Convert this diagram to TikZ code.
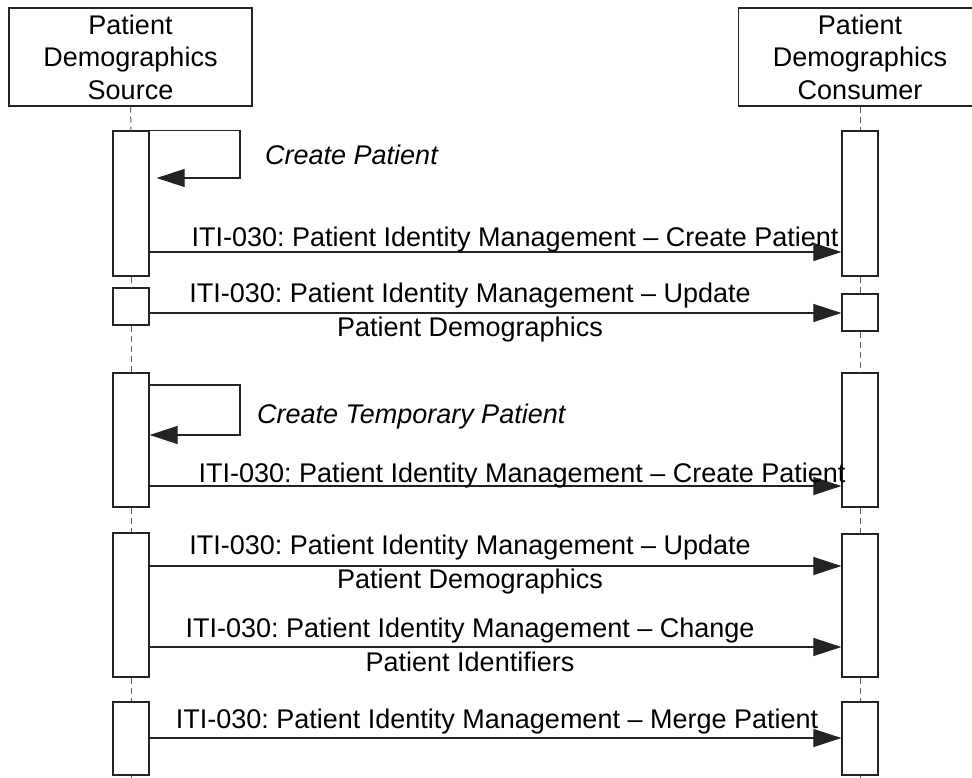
\documentclass[tikz,border=0pt]{standalone}
\usepackage{fontspec}
\setmainfont{Liberation Sans}
\usetikzlibrary{arrows.meta,positioning}
\definecolor{lineblack}{RGB}{35,35,35}
\definecolor{lifegray}{RGB}{95,95,95}
\frenchspacing

\begin{document}
\begin{tikzpicture}[x=1pt,y=-1pt,>=Stealth,
    font=\fontsize{27}{32.5}\selectfont,
    headbox/.style={draw=lineblack,line width=1.2pt,minimum width=243pt,
      minimum height=98pt,align=center,inner sep=0pt},
    actbox/.style={draw=lineblack,fill=white,line width=1.2pt,
      minimum width=36pt,inner sep=0pt},
    lifeline/.style={draw=lifegray,line width=1pt,dash pattern=on 6pt off 4pt},
    msg/.style={draw=lineblack,line width=1.1pt,
      -{Triangle[length=28pt,width=18pt]}},
    msglabel/.style={align=center,inner sep=0pt,anchor=base,
      font=\fontsize{27}{33.5}\selectfont},
    selflabel/.style={anchor=base west,inner sep=0pt,
      font=\fontsize{27}{32.5}\selectfont\itshape}]

  \clip (0,0) rectangle (972,778);

  %-------------------- actors --------------------
  \node[headbox] (srcHead) at (130.5,57) {Patient\\Demographics\\Source};
  \node[headbox] (conHead) at (860,57) {Patient\\Demographics\\Consumer};

  % activation bars
  \foreach \nm/\y/\h in {s1/203.5/145,s2/306.5/37,s3/440/134,s4/605/144,s5/738.5/73}
    \node[actbox,minimum height=\h pt] (\nm) at (131,\y) {};
  \foreach \nm/\y/\h in {c1/203.5/145,c2/312.5/37,c3/440/134,c4/605.5/143,c5/738.5/73}
    \node[actbox,minimum height=\h pt] (\nm) at (860,\y) {};

  % lifelines
  \foreach \a/\b in {srcHead/s1,s1/s2,s2/s3,s3/s4,s4/s5,
                     conHead/c1,c1/c2,c2/c3,c3/c4,c4/c5}
    \draw[lifeline] (\a.south) -- (\b.north);
  \coordinate (srcEnd) at (131,778);
  \coordinate (conEnd) at (860,778);
  \draw[lifeline] (s5.south) -- (srcEnd);
  \draw[lifeline] (c5.south) -- (conEnd);

  %-------------------- self messages --------------------
  \coordinate (selfA) at (240,178);
  \draw[msg] (s1.north east) -| (selfA) -- ([xshift=7pt]s1.east |- selfA);
  \node[selflabel] (lselfA) at (265,165) {Create Patient};

  \coordinate (selfBtop) at (240,385);
  \coordinate (selfBbot) at (240,435);
  \draw[msg] (s3.east |- selfBtop) -- (selfBtop) -- (selfBbot)
    -- (s3.east |- selfBbot);
  \node[selflabel] (lselfB) at (257,423) {Create Temporary Patient};

  %-------------------- messages --------------------
  \foreach \a/\b/\y [count=\i] in {s1/c1/252,s2/c2/313,s3/c3/486,
                                   s4/c4/566,s4/c4/647,s5/c5/738}{
    \coordinate (m\i) at (0,\y);
    \draw[msg] (\a.east |- m\i) -- (\b.west |- m\i);
  }

  % labels (base = last text line)
  \node[msglabel] (l1) at (515,247)
    {ITI-030: Patient Identity Management – Create Patient};
  \node[msglabel] (l2) at (470,336)
    {ITI-030: Patient Identity Management – Update\\Patient Demographics};
  \node[msglabel] (l3) at (522,482)
    {ITI-030: Patient Identity Management – Create Patient};
  \node[msglabel] (l4) at (470,588)
    {ITI-030: Patient Identity Management – Update\\Patient Demographics};
  \node[msglabel] (l5) at (470,671)
    {ITI-030: Patient Identity Management – Change\\Patient Identifiers};
  \node[msglabel] (l6) at (497,728)
    {ITI-030: Patient Identity Management – Merge Patient};

\end{tikzpicture}
\end{document}
